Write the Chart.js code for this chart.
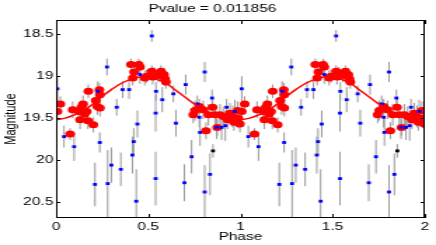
<!DOCTYPE html>
<html>
<head>
<meta charset="utf-8">
<script src="https://cdn.jsdelivr.net/npm/chart.js@4.4.0/dist/chart.umd.min.js"></script>
<style>
  html, body { margin: 0; padding: 0; background: #fff; }
  #lc { display: block; }
</style>
</head>
<body>
<!-- drawn at 311px wide, then stretched to 436px like the reference -->
<canvas id="lc" width="311" height="245" style="width:436px;height:245px"></canvas>
<script>
const xTicks = [0, 0.5, 1, 1.5, 2];
const yTicks = [18.5, 19, 19.5, 20, 20.5];

// blue points (one cycle, phase 0..1)
const bluePhase = [0.007, 0.043, 0.098, 0.211, 0.226, 0.237, 0.276, 0.280, 0.300, 0.329,
  0.351, 0.361, 0.396, 0.414, 0.421, 0.435, 0.441, 0.455, 0.519, 0.540,
  0.542, 0.540, 0.576, 0.636, 0.650, 0.696, 0.703, 0.735, 0.766, 0.777,
  0.781, 0.806, 0.806, 0.835, 0.846, 0.871, 0.898, 0.918, 0.925, 0.970];
const blueMag = [19.15, 19.72, 19.84, 20.29, 19.18, 19.79, 18.89, 20.28, 20.06, 19.37,
  20.11, 19.16, 19.16, 19.94, 19.78, 20.49, 19.57, 18.98, 18.52, 19.44,
  19.18, 20.22, 19.28, 19.21, 19.56, 20.27, 19.10, 19.96, 19.33, 19.49,
  19.67, 18.95, 20.38, 20.17, 19.26, 19.61, 19.61, 19.59, 19.37, 19.42];
const blueErr = [0.15, 0.13, 0.17, 0.26, 0.12, 0.12, 0.10, 0.40, 0.21, 0.10,
  0.20, 0.10, 0.11, 0.22, 0.16, 0.38, 0.16, 0.11, 0.07, 0.22,
  0.11, 0.32, 0.15, 0.10, 0.16, 0.22, 0.12, 0.20, 0.10, 0.12,
  0.16, 0.12, 0.32, 0.25, 0.10, 0.14, 0.15, 0.18, 0.10, 0.14];

// the single black point
const blackPhase = [0.851];
const blackMag = [19.89];
const blackErr = [0.08];

// red points
const redPhase = [0.007, 0.023, 0.076, 0.090, 0.123, 0.130, 0.137, 0.146, 0.155, 0.166,
  0.173, 0.175, 0.202, 0.215, 0.224, 0.235, 0.238, 0.238,
  0.406, 0.416, 0.423, 0.448, 0.455, 0.481, 0.491, 0.519, 0.524, 0.532,
  0.555, 0.569, 0.576, 0.585, 0.591, 0.596,
  0.744, 0.753, 0.777, 0.798, 0.813, 0.826, 0.849, 0.862, 0.874, 0.889,
  0.907, 0.930, 0.943, 0.958, 0.965, 0.985, 0.988, 0.997];
const redMag = [19.42, 19.33, 19.69, 19.40, 19.42, 19.52, 19.37, 19.33, 19.45, 19.42,
  19.53, 19.18, 19.58, 19.29, 19.36, 19.16, 19.22, 19.38,
  18.86, 19.02, 18.95, 18.86, 18.89, 19.02, 19.00, 18.94, 19.01, 18.97,
  18.99, 18.94, 19.00, 18.98, 19.03, 19.07,
  19.46, 19.41, 19.36, 19.40, 19.65, 19.46, 19.37, 19.46, 19.61, 19.46,
  19.48, 19.52, 19.44, 19.48, 19.55, 19.41, 19.50, 19.57];
const redErr = [0.08, 0.09, 0.07, 0.10, 0.09, 0.11, 0.08, 0.10, 0.09, 0.12,
  0.10, 0.08, 0.09, 0.11, 0.10, 0.08, 0.09, 0.10,
  0.07, 0.09, 0.08, 0.07, 0.08, 0.09, 0.08, 0.07, 0.09, 0.08,
  0.08, 0.07, 0.09, 0.08, 0.09, 0.08,
  0.10, 0.12, 0.09, 0.11, 0.10, 0.13, 0.11, 0.12, 0.10, 0.13,
  0.12, 0.11, 0.12, 0.13, 0.10, 0.11, 0.12, 0.10];

// fitted curve
const fitPhase = [0, 0.05, 0.1, 0.15, 0.2, 0.25, 0.3, 0.35, 0.4, 0.45, 0.5,
  0.55, 0.6, 0.65, 0.7, 0.75, 0.8, 0.85, 0.9, 0.95, 1];
const fitMag = [19.52, 19.50, 19.46, 19.41, 19.33, 19.24, 19.16, 19.09, 19.04, 19.01, 19.01,
  19.04, 19.09, 19.17, 19.25, 19.33, 19.40, 19.46, 19.50, 19.52, 19.52];

// folded light curve: each point is shown at phase and phase + 1
function twoCycles(phase, mag, err) {
  const pts = [];
  [0, 1].forEach(k => {
    phase.forEach((p, i) => pts.push({ x: p + k, y: mag[i], e: err ? err[i] : 0 }));
  });
  return pts;
}

const fitPts = twoCycles(fitPhase, fitMag).filter((p, i) => i !== fitPhase.length);

const font = { family: "'Liberation Sans', Arial, sans-serif", size: 11, weight: 'normal' };

const errorBars = {
  id: 'errorBars',
  beforeDatasetsDraw(chart) {
    const { ctx, chartArea, scales: { x, y } } = chart;
    ctx.save();
    ctx.beginPath();
    ctx.rect(chartArea.left, chartArea.top, chartArea.width, chartArea.height);
    ctx.clip();
    ctx.strokeStyle = '#9a9a9a';
    ctx.lineWidth = 1;
    chart.data.datasets.forEach(ds => {
      if (!ds.errorBars) return;
      ds.data.forEach(p => {
        const px = x.getPixelForValue(p.x);
        ctx.beginPath();
        ctx.moveTo(px, y.getPixelForValue(p.y - p.e));
        ctx.lineTo(px, y.getPixelForValue(p.y + p.e));
        ctx.stroke();
      });
    });
    ctx.restore();
  }
};

// box round the plot with inward ticks on all four sides
const frame = {
  id: 'frame',
  afterDraw(chart) {
    const { ctx, chartArea: a, scales: { x, y } } = chart;
    ctx.save();
    ctx.strokeStyle = '#000';
    ctx.lineWidth = 1;
    ctx.beginPath();
    xTicks.forEach(v => {
      const px = Math.round(x.getPixelForValue(v)) + 0.5;
      ctx.moveTo(px, a.bottom); ctx.lineTo(px, a.bottom - 4);
      ctx.moveTo(px, a.top); ctx.lineTo(px, a.top + 4);
    });
    yTicks.forEach(v => {
      const py = Math.round(y.getPixelForValue(v)) + 0.5;
      ctx.moveTo(a.left, py); ctx.lineTo(a.left + 3, py);
      ctx.moveTo(a.right, py); ctx.lineTo(a.right - 3, py);
    });
    ctx.stroke();
    ctx.strokeRect(Math.round(a.left) + 0.5, Math.round(a.top) + 0.5,
      Math.round(a.width) - 1, Math.round(a.height) - 1);
    ctx.restore();
  }
};

new Chart(document.getElementById('lc'), {
  type: 'scatter',
  data: {
    datasets: [
      {
        type: 'line',
        data: fitPts,
        borderColor: '#ff0000',
        borderWidth: 1.5,
        pointRadius: 0,
        tension: 0.4,
        fill: false,
        order: 0,
      },
      {
        data: twoCycles(bluePhase, blueMag, blueErr),
        errorBars: true,
        pointStyle: 'rect',
        pointRadius: 2,
        borderWidth: 0,
        backgroundColor: '#0000ff',
        order: 1,
      },
      {
        data: twoCycles(blackPhase, blackMag, blackErr),
        errorBars: true,
        pointStyle: 'rect',
        pointRadius: 2,
        borderWidth: 0,
        backgroundColor: '#000000',
        order: 1,
      },
      {
        data: twoCycles(redPhase, redMag, redErr),
        errorBars: true,
        pointStyle: 'circle',
        pointRadius: 3.5,
        borderWidth: 0,
        backgroundColor: '#ff0000',
        order: 3,
      },
    ],
  },
  options: {
    responsive: false,
    animation: false,
    devicePixelRatio: 1,
    layout: { padding: { left: 0, right: 8, top: 0, bottom: 0 } },
    plugins: {
      legend: { display: false },
      tooltip: { enabled: false },
      title: {
        display: true,
        text: 'Pvalue = 0.011856',
        color: '#000',
        font: font,
        padding: { top: 2, bottom: 4.8 },
      },
    },
    scales: {
      x: {
        type: 'linear',
        min: 0,
        max: 2,
        afterBuildTicks: s => { s.ticks = xTicks.map(v => ({ value: v })); },
        afterFit: s => { s.height = 27; },
        ticks: { color: '#000', font: font, padding: 2, maxRotation: 0, autoSkip: false, callback: v => String(v) },
        grid: { display: false, drawTicks: false },
        border: { display: false },
        title: { display: true, text: 'Phase', color: '#000', font: font, padding: 1 },
      },
      y: {
        type: 'linear',
        reverse: true,
        min: 18.33,
        max: 20.69,
        afterBuildTicks: s => { s.ticks = yTicks.map(v => ({ value: v })); },
        afterFit: s => { s.width = 40; },
        ticks: { color: '#000', font: font, padding: 2, callback: v => String(v) },
        grid: { display: false, drawTicks: false },
        border: { display: false },
        title: { display: true, text: 'Magnitude', color: '#000', font: font, padding: 1.5 },
      },
    },
  },
  plugins: [errorBars, frame],
});
</script>
</body>
</html>
